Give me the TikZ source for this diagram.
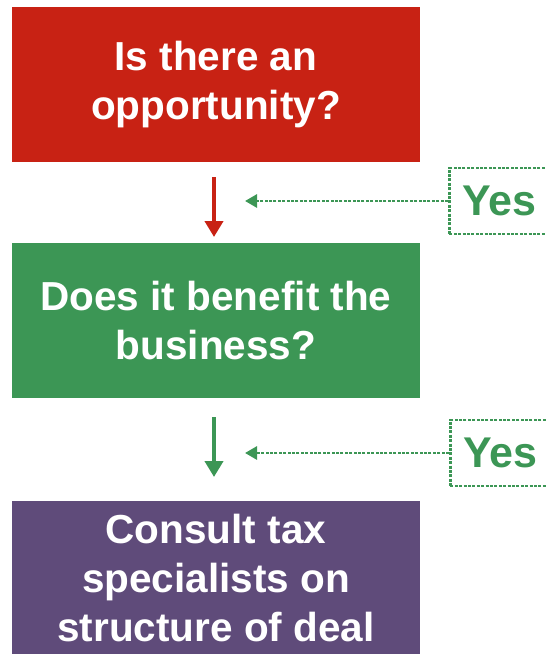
\documentclass[tikz,border=0pt]{standalone}
\usepackage{fontspec}
\setmainfont{Liberation Sans}
\usetikzlibrary{arrows.meta}
\definecolor{boxred}{RGB}{200,34,20}
\definecolor{boxgreen}{RGB}{60,150,85}
\definecolor{boxpurple}{RGB}{95,75,122}
\begin{document}
\begin{tikzpicture}[x=1pt,y=-1pt,
  stepbox/.style={minimum width=408pt,minimum height=155pt,inner sep=0pt,
    text=white,font=\bfseries\fontsize{40.5}{49}\selectfont,align=center},
  yesbox/.style={draw=boxgreen,line width=2.8pt,dash pattern=on 3pt off 1.4pt,
    minimum width=140pt,minimum height=66pt,anchor=west,inner sep=0pt,
    text=boxgreen,font=\bfseries\fontsize{43}{50}\selectfont,
    text width=114pt,align=left},
  flow/.style={line width=4.5pt,-{Triangle[length=16pt,width=18pt]}},
  hint/.style={boxgreen,line width=2.8pt,dash pattern=on 3pt off 1.4pt,
    -{Triangle[length=12pt,width=13pt]}}]
\useasboundingbox (0,0) rectangle (546,654);
\node[stepbox,fill=boxred] (q1) at (216,84.5) {Is there an\\opportunity?};
\node[stepbox,fill=boxgreen] (q2) at (216,320.5) {Does it benefit the\\business?};
\node[stepbox,fill=boxpurple] (act) at (216,578.5) {Consult tax\\specialists on\\structure of deal};
\node[yesbox] (y1) at (448,201) {Yes};
\node[yesbox] (y2) at (449,453) {Yes};
\coordinate (a1s) at (214,177);
\coordinate (a1e) at (214,237);
\coordinate (a2s) at (214,417);
\coordinate (a2e) at (214,477);
\draw[flow,boxred] (a1s) -- (a1e);
\draw[flow,boxgreen] (a2s) -- (a2e);
\coordinate (h1) at (245,201);
\coordinate (h2) at (245,453);
\draw[hint] (y1.west) -- (h1);
\draw[hint] (y2.west) -- (h2);
\end{tikzpicture}
\end{document}
